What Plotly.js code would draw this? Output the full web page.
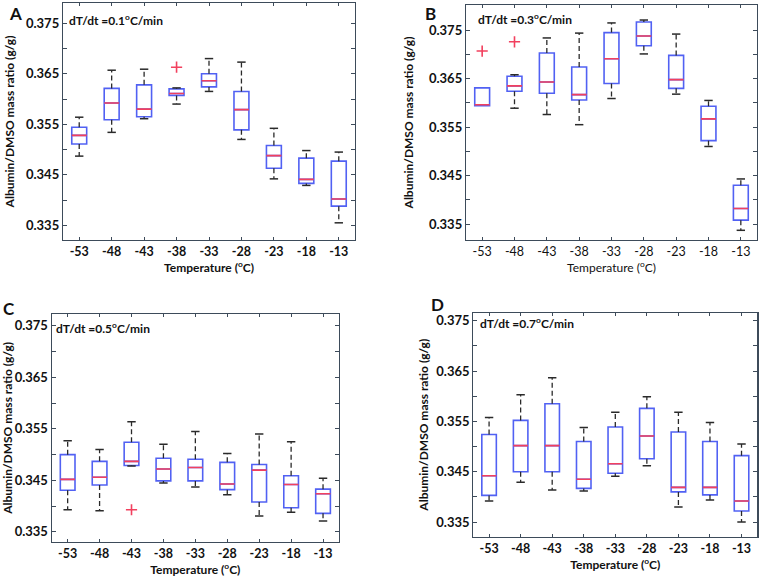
<!DOCTYPE html>
<html>
<head>
<meta charset="utf-8">
<script src="https://cdn.plot.ly/plotly-3.0.1.min.js"></script>
<style>html,body{margin:0;padding:0;background:#fff;}#chart{width:765px;height:577px;}</style>
</head>
<body>
<div id="chart"></div>
<script>
// ---------- data ----------
const temps = ['-53','-48','-43','-38','-33','-28','-23','-18','-13'];

const aUpper = [0.3564, 0.3657, 0.3659, 0.3622, 0.3680, 0.3673, 0.3542, 0.3498, 0.3495];
const aQ3    = [0.3544, 0.3621, 0.3628, 0.3620, 0.3650, 0.3615, 0.3508, 0.3483, 0.3477];
const aMed   = [0.3528, 0.3592, 0.3580, 0.3611, 0.3636, 0.3579, 0.3488, 0.3441, 0.3402];
const aQ1    = [0.3511, 0.3559, 0.3565, 0.3607, 0.3624, 0.3539, 0.3463, 0.3433, 0.3388];
const aLower = [0.3487, 0.3534, 0.3561, 0.3590, 0.3615, 0.3520, 0.3442, 0.3429, 0.3355];
const aOutX  = ['-38'];
const aOutY  = [0.3663];

const bUpper = [0.3631, 0.3658, 0.3734, 0.3744, 0.3765, 0.3771, 0.3742, 0.3605, 0.3443];
const bQ3    = [0.3631, 0.3655, 0.3703, 0.3674, 0.3745, 0.3767, 0.3698, 0.3593, 0.3430];
const bMed   = [0.3596, 0.3635, 0.3643, 0.3617, 0.3691, 0.3738, 0.3648, 0.3567, 0.3382];
const bQ1    = [0.3594, 0.3624, 0.3620, 0.3606, 0.3640, 0.3718, 0.3630, 0.3522, 0.3358];
const bLower = [0.3594, 0.3589, 0.3576, 0.3555, 0.3609, 0.3701, 0.3618, 0.3510, 0.3337];
const bOutX  = ['-53', '-48'];
const bOutY  = [0.3707, 0.3726];

const cUpper = [0.3527, 0.3510, 0.3564, 0.3520, 0.3545, 0.3502, 0.3540, 0.3525, 0.3454];
const cQ3    = [0.3500, 0.3487, 0.3524, 0.3493, 0.3491, 0.3485, 0.3481, 0.3459, 0.3433];
const cMed   = [0.3452, 0.3456, 0.3487, 0.3472, 0.3475, 0.3443, 0.3470, 0.3442, 0.3424];
const cQ1    = [0.3431, 0.3441, 0.3479, 0.3449, 0.3449, 0.3432, 0.3408, 0.3397, 0.3386];
const cLower = [0.3393, 0.3391, 0.3478, 0.3445, 0.3437, 0.3422, 0.3381, 0.3388, 0.3371];
const cOutX  = ['-43'];
const cOutY  = [0.3393];

const dUpper = [0.3558, 0.3603, 0.3637, 0.3538, 0.3568, 0.3599, 0.3568, 0.3548, 0.3505];
const dQ3    = [0.3524, 0.3552, 0.3585, 0.3510, 0.3539, 0.3576, 0.3529, 0.3510, 0.3482];
const dMed   = [0.3442, 0.3502, 0.3502, 0.3435, 0.3466, 0.3521, 0.3419, 0.3419, 0.3392];
const dQ1    = [0.3403, 0.3450, 0.3450, 0.3417, 0.3447, 0.3476, 0.3410, 0.3404, 0.3372];
const dLower = [0.3392, 0.3429, 0.3414, 0.3412, 0.3441, 0.3462, 0.3380, 0.3394, 0.3350];
const dOutX  = [];
const dOutY  = [];

const yTickVals = [0.335, 0.345, 0.355, 0.365, 0.375];
const yTickText = ['0.335', '0.345', '0.355', '0.365', '0.375'];
const yMinorStep = 0.005;

const panelLetters = ['A', 'B', 'C', 'D'];
const rateLabels = ['dT/dt =0.1<sup>o</sup>C/min', 'dT/dt =0.3<sup>o</sup>C/min',
                    'dT/dt =0.5<sup>o</sup>C/min', 'dT/dt =0.7<sup>o</sup>C/min'];
const xTitle = 'Temperature (<sup>o</sup>C)';
const yTitle = 'Albumin/DMSO mass ratio (g/g)';

// ---------- styling ----------
const FONT = 'Lato, "Open Sans", sans-serif';
const BLUE = '#5161f3';
const RED = '#f2405e';
const BLACK = '#2a2a2a';
const FRAME = '#3d4b5a';
const W = 765, H = 577;
const px = v => v / W;
const py = v => 1 - v / H;

const panels = [
  {up: aUpper, q3: aQ3, med: aMed, q1: aQ1, lo: aLower, ox: aOutX, oy: aOutY,
   box: [63, 355, 3, 240], yr: [0.3321, 0.3790], letter: [16, 1], rate: [67, 20], bold: true, yst: 8, xst: 5},
  {up: bUpper, q3: bQ3, med: bMed, q1: bQ1, lo: bLower, ox: bOutX, oy: bOutY,
   box: [466, 757, 5, 240], yr: [0.3317, 0.3802], letter: [430, 1], rate: [476, 19], bold: false, yst: 12, xst: 5},
  {up: cUpper, q3: cQ3, med: cMed, q1: cQ1, lo: cLower, ox: cOutX, oy: cOutY,
   box: [51.7, 339, 314, 541.7], yr: [0.3331, 0.3773], letter: [9, 296], rate: [54, 328], bold: true, yst: 1, xst: 6},
  {up: dUpper, q3: dQ3, med: dMed, q1: dQ1, lo: dLower, ox: dOutX, oy: dOutY,
   box: [473.3, 757.3, 312.7, 536.7], yr: [0.3321, 0.3766], letter: [437, 292], rate: [478, 323], bold: true, yst: 5, xst: 5}
];

const traces = [];
const layout = {
  width: W, height: H,
  margin: {l: 0, r: 0, t: 0, b: 0},
  paper_bgcolor: '#fff', plot_bgcolor: '#fff',
  showlegend: false,
  boxmode: 'overlay',
  font: {family: FONT, color: '#111'},
  annotations: []
};

panels.forEach((p, i) => {
  const n = i + 1;
  const xa = n === 1 ? 'x' : 'x' + n;
  const ya = n === 1 ? 'y' : 'y' + n;
  const xk = n === 1 ? 'xaxis' : 'xaxis' + n;
  const yk = n === 1 ? 'yaxis' : 'yaxis' + n;

  // whiskers (dashed)
  const wx = [], wy = [];
  temps.forEach((t, k) => {
    if (p.up[k] > p.q3[k]) { wx.push(t, t, null); wy.push(p.q3[k], p.up[k], null); }
    if (p.lo[k] < p.q1[k]) { wx.push(t, t, null); wy.push(p.q1[k], p.lo[k], null); }
  });
  traces.push({type: 'scatter', mode: 'lines', x: wx, y: wy, xaxis: xa, yaxis: ya,
    line: {color: BLACK, width: 1.3, dash: '5px,3px'}, hoverinfo: 'skip'});

  // whisker caps
  const cx = [], cy = [];
  temps.forEach((t, k) => {
    if (p.up[k] > p.q3[k]) { cx.push(t); cy.push(p.up[k]); }
    if (p.lo[k] < p.q1[k]) { cx.push(t); cy.push(p.lo[k]); }
  });
  traces.push({type: 'scatter', mode: 'markers', x: cx, y: cy, xaxis: xa, yaxis: ya,
    marker: {symbol: 'line-ew', size: 6, line: {color: BLACK, width: 1.5}}, hoverinfo: 'skip'});

  // boxes
  traces.push({type: 'box', x: temps, q1: p.q1, median: p.med, q3: p.q3,
    lowerfence: p.q1, upperfence: p.q3, xaxis: xa, yaxis: ya,
    width: 0.46, whiskerwidth: 0, fillcolor: 'rgba(0,0,0,0)',
    line: {color: BLUE, width: 1.6}, boxpoints: false, hoverinfo: 'skip'});

  // medians (red)
  traces.push({type: 'box', x: temps, q1: p.med, median: p.med, q3: p.med,
    lowerfence: p.med, upperfence: p.med, xaxis: xa, yaxis: ya,
    width: 0.46, whiskerwidth: 0, fillcolor: 'rgba(0,0,0,0)',
    line: {color: RED, width: 1.6}, boxpoints: false, hoverinfo: 'skip'});

  // outliers
  traces.push({type: 'scatter', mode: 'markers', x: p.ox, y: p.oy, xaxis: xa, yaxis: ya,
    marker: {symbol: 'cross-thin', size: 8, color: RED, line: {color: RED, width: 1.6}}, hoverinfo: 'skip'});

  const weight = p.bold ? 'bold' : 'normal';
  layout[xk] = {
    domain: [px(p.box[0]), px(p.box[1])],
    anchor: ya, type: 'category', categoryorder: 'array', categoryarray: temps,
    range: [-0.5, 8.5], showgrid: false, zeroline: false,
    showline: true, linecolor: FRAME, linewidth: 1.2, mirror: 'ticks',
    ticks: 'inside', ticklen: 3, tickcolor: FRAME, tickwidth: 1,
    tickfont: {family: FONT, size: 12.5, weight: weight, color: '#111'},
    title: {text: xTitle, font: {family: FONT, size: 12, weight: weight, color: '#111'}, standoff: p.xst},
    fixedrange: true
  };
  layout[yk] = {
    domain: [py(p.box[3]), py(p.box[2])],
    anchor: xa, range: p.yr, showgrid: false, zeroline: false,
    showline: true, linecolor: FRAME, linewidth: 1.2, mirror: 'ticks',
    tickmode: 'array', tickvals: yTickVals, ticktext: yTickText,
    ticks: 'inside', ticklen: 4, tickcolor: FRAME, tickwidth: 1,
    minor: {tick0: 0.335, dtick: yMinorStep, ticks: 'inside', ticklen: 4, tickcolor: FRAME, tickwidth: 1, showgrid: false},
    tickfont: {family: FONT, size: 13, weight: 'bold', color: '#111'},
    title: {text: yTitle, font: {family: FONT, size: 12, weight: 'bold', color: '#111'}, standoff: p.yst},
    fixedrange: true
  };

  layout.annotations.push({
    text: panelLetters[i], xref: 'paper', yref: 'paper',
    x: px(p.letter[0]), y: py(p.letter[1]), xanchor: 'center', yanchor: 'top',
    showarrow: false, font: {family: FONT, size: 17, weight: 'bold', color: '#111'}
  });
  layout.annotations.push({
    text: rateLabels[i], xref: 'paper', yref: 'paper',
    x: px(p.rate[0]), y: py(p.rate[1]), xanchor: 'left', yanchor: 'middle',
    showarrow: false, font: {family: FONT, size: 12, weight: 'bold', color: '#111'}
  });
});

Plotly.newPlot('chart', traces, layout, {staticPlot: true, displayModeBar: false});
</script>
</body>
</html>
